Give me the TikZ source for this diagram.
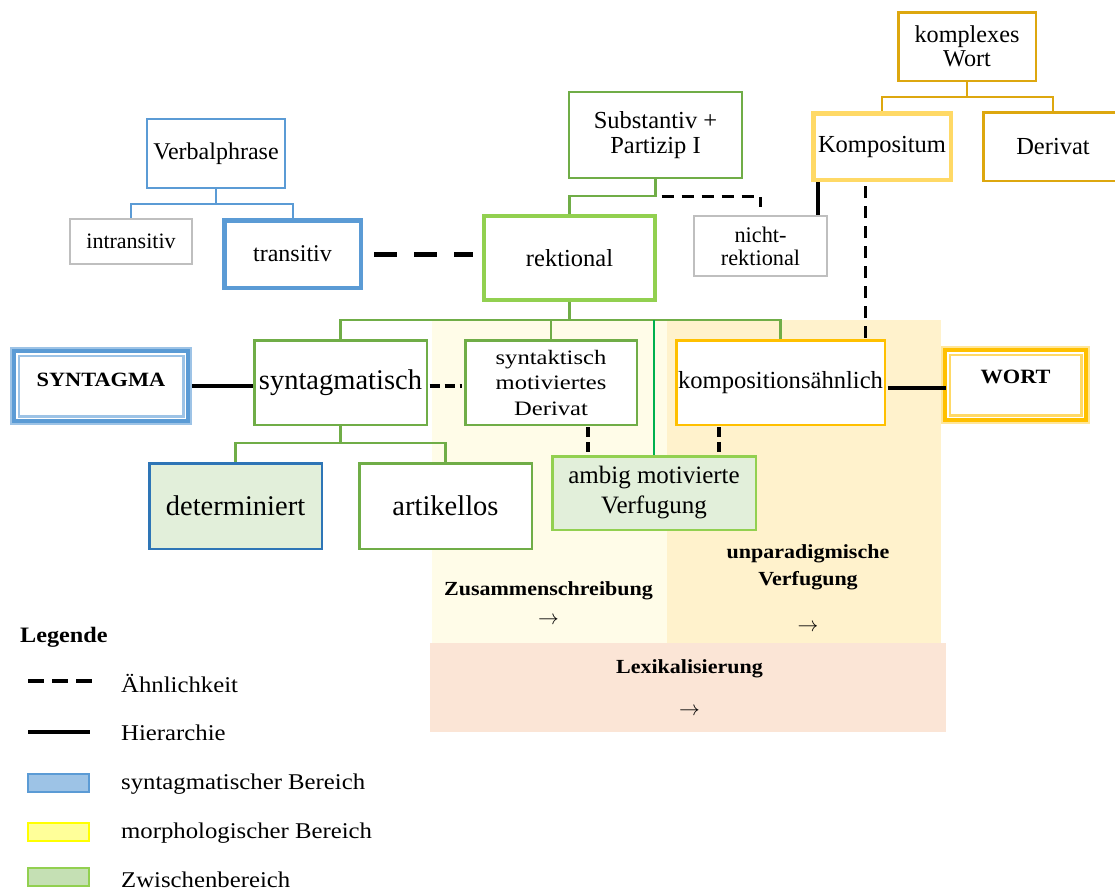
\documentclass[tikz,border=0pt]{standalone}
\usepackage{fontspec}
\setmainfont{Liberation Serif}
\newfontfamily\lblfont{Liberation Serif}[FakeStretch=1.1]
\newfontfamily\widefont{Liberation Serif}[FakeStretch=1.2]
\usetikzlibrary{calc}
\newcommand\fsz[2]{\fontsize{#1}{#2}\selectfont}
\definecolor{cBlue}{HTML}{5B9BD5}
\definecolor{cBlueD}{HTML}{2E75B6}
\definecolor{cBlueL}{HTML}{9DC3E6}
\definecolor{cGreen}{HTML}{70AD47}
\definecolor{cGreenL}{HTML}{92D050}
\definecolor{cGreenB}{HTML}{00B050}
\definecolor{cGray}{HTML}{BFBFBF}
\definecolor{cGold}{HTML}{DDA70F}
\definecolor{cGoldL}{HTML}{FFD966}
\definecolor{cGoldM}{HTML}{FFC000}
\definecolor{cGoldLL}{HTML}{FFE699}
\definecolor{fGreen}{HTML}{E2EFDA}
\definecolor{bgYellow}{HTML}{FFFCE8}
\definecolor{bgOrange}{HTML}{FFF2CC}
\definecolor{bgPink}{HTML}{FBE5D6}
\definecolor{legGreen}{HTML}{C5E0B4}
\definecolor{legYellow}{HTML}{FFFF99}
\definecolor{legYellowB}{HTML}{FFFF00}
\begin{document}
\begin{tikzpicture}[x=1pt,y=-1pt,
  box/.style={draw, fill=white, inner sep=0pt, align=center, text=black},
  treeB/.style={draw=cBlue, line width=2pt},
  treeG/.style={draw=cGreen, line width=2.2pt},
  treeGold/.style={draw=cGold, line width=2.5pt},
  brightG/.style={draw=cGreenB, line width=1.6pt},
  solidB/.style={draw=black, line width=4.5pt},
  bigdash/.style={draw=black, line width=5pt, dash pattern=on 23pt off 17pt},
  meddash/.style={draw=black, line width=3pt, dash pattern=on 12pt off 8pt},
  smalldash/.style={draw=black, line width=4pt, dash pattern=on 10pt off 5pt},
  legdash/.style={draw=black, line width=4pt, dash pattern=on 16pt off 8pt},
  legtext/.style={anchor=base west, inner sep=0pt, font=\lblfont\fsz{22.5}{27}},
  lbl/.style={anchor=base, inner sep=0pt, font=\lblfont\bfseries\fsz{20}{24}},
  arr/.style={anchor=base, inner sep=0pt, font=\fsz{21}{24}},
  legbox/.style={line width=2pt, minimum width=61pt, minimum height=18pt, inner sep=0pt}
]
\path[use as bounding box, clip] (0,0) rectangle (1115,892);
\fill[white] (0,0) rectangle (1115,892);

% background regions
\fill[bgYellow] (432,320) rectangle (667,643);
\fill[bgOrange] (667,320) rectangle (941,643);
\fill[bgPink] (430,643) rectangle (946,732);

% nodes
\node[box, draw=cBlue, line width=2pt, minimum width=138pt, minimum height=69pt, font=\fsz{24}{26}] (verb) at (216,153.5) {Verbalphrase};
\node[box, draw=cGray, line width=2pt, minimum width=122pt, minimum height=45pt, font=\fsz{22}{24}] (intrans) at (131,241.5) {intransitiv};
\node[box, draw=cBlue, line width=4.5pt, minimum width=136.5pt, minimum height=67.5pt, font=\fsz{24}{26}] (trans) at (292.5,254) {transitiv};
\node[box, draw=cGreen, line width=2pt, minimum width=173pt, minimum height=86pt, font=\fsz{24.5}{25}] (subst) at (655.5,135) {Substantiv +\\Partizip I};
\node[box, draw=cGreenL, line width=4pt, minimum width=171pt, minimum height=84pt, font=\fsz{24.5}{26}] (rekt) at (569.5,258) {rektional};
\node[box, draw=cGray, line width=2pt, minimum width=133pt, minimum height=60pt, font=\fsz{22.3}{23}] (nicht) at (760.5,246) {nicht-\\rektional};
\node[box, draw=cGold, line width=2.5pt, minimum width=137.5pt, minimum height=68.5pt, font=\fsz{24.2}{24}] (komplex) at (967,46.5) {komplexes\\Wort};
\node[box, draw=cGoldL, line width=4.5pt, minimum width=137.5pt, minimum height=66.5pt, font=\fsz{24.5}{26}] (kompos) at (882,146.5) {Kompositum};
\node[box, draw=cGold, line width=2.5pt, minimum width=139.5pt, minimum height=68.5pt, font=\fsz{24.5}{26}] (deriv) at (1053,146.5) {Derivat};

\node[box, draw=cBlue, line width=4pt, outer sep=0pt, minimum width=174pt, minimum height=70pt, text height=8pt, text depth=8pt, font=\lblfont\bfseries\fsz{20.3}{24}] (syntagma) at (101,386) {SYNTAGMA};
\draw[cBlueL, line width=2pt] ([xshift=-3pt,yshift=3pt]syntagma.north west) rectangle ([xshift=3pt,yshift=-3pt]syntagma.south east);
\draw[cBlueL, line width=2.5pt] ([xshift=4.75pt,yshift=-4.75pt]syntagma.north west) rectangle ([xshift=-4.75pt,yshift=4.75pt]syntagma.south east);

\node[box, draw=cGoldM, line width=4pt, outer sep=0pt, minimum width=141pt, minimum height=70pt, text height=8pt, text depth=12pt, font=\lblfont\bfseries\fsz{20.3}{24}] (wort) at (1015.5,385) {WORT};
\draw[cGoldLL, line width=2pt] ([xshift=-3pt,yshift=3pt]wort.north west) rectangle ([xshift=3pt,yshift=-3pt]wort.south east);
\draw[cGoldL, line width=2.5pt] ([xshift=4.75pt,yshift=-4.75pt]wort.north west) rectangle ([xshift=-4.75pt,yshift=4.75pt]wort.south east);

\node[box, draw=cGreen, line width=2.5pt, minimum width=172.5pt, minimum height=84.5pt, font=\fsz{28.5}{30}] (syntagm) at (340.5,382.5) {syntagmatisch};
\node[box, draw=cGreen, line width=2.5pt, minimum width=171.5pt, minimum height=84.5pt, font=\widefont\fsz{20.5}{25.5}] (syntakt) at (551,382.5) {syntaktisch\\motiviertes\\Derivat};
\node[box, draw=cGoldM, line width=2.5pt, minimum width=208.5pt, minimum height=84.5pt, font=\fsz{24.6}{26}] (kompah) at (780.5,382.5) {kompositionsähnlich};
\node[box, draw=cBlueD, fill=fGreen, line width=2.5pt, minimum width=172.5pt, minimum height=85.5pt, font=\fsz{28.5}{30}] (determ) at (235.5,506) {determiniert};
\node[box, draw=cGreen, line width=2.5pt, minimum width=172.5pt, minimum height=85.5pt, font=\fsz{28.5}{30}] (artik) at (445.5,506) {artikellos};
\node[box, draw=cGreenL, fill=fGreen, line width=2.5pt, minimum width=203.5pt, minimum height=73.5pt, font=\fsz{25}{30}] (ambig) at (654,493) {ambig motivierte\\Verfugung};

% tree connectors
\coordinate (vpJ) at ($(verb.south)+(0,15)$);
\draw[treeB] (verb.south) -- (vpJ) -| (intrans.north);
\draw[treeB] (vpJ) -| (trans.north);
\coordinate (spJ) at ($(subst.south)+(0,17)$);
\draw[treeG] (subst.south) -- (spJ) -| (rekt.north);
\coordinate (rkJ) at ($(rekt.south)+(0,18)$);
\draw[treeG] (rekt.south) -- (rkJ) -| (syntagm.north);
\draw[treeG] (rkJ) -| (syntakt.north);
\draw[treeG] (rkJ) -| (kompah.north);
\draw[brightG] (ambig.north) -- (ambig.north |- rkJ);
\coordinate (sgJ) at ($(syntagm.south)+(0,17)$);
\draw[treeG] (syntagm.south) -- (sgJ) -| (determ.north);
\draw[treeG] (sgJ) -| (artik.north);
\coordinate (kwJ) at ($(komplex.south)+(0,15)$);
\draw[treeGold] (komplex.south) -- (kwJ) -| (kompos.north);
\draw[treeGold] (kwJ) -| (deriv.north);

% similarity / hierarchy lines
\draw[bigdash, shorten <=11pt, shorten >=9pt] (trans.east) -- (trans.east -| rekt.west);
\coordinate (spD) at ($(spJ)+(6,0)$);
\coordinate (nT) at ($(nicht.north)+(0,-8)$);
\draw[meddash] (spD) -| (nT);
\coordinate (kS) at ($(kompos.south west)+(7,0)$);
\draw[solidB] (kS) -- (kS |- nicht.north);
\coordinate (kD) at ($(kompos.south west)+(54,4)$);
\draw[meddash] (kD) -- (kD |- kompah.north);
\draw[solidB, shorten <=4pt] (syntagma.east) -- (syntagma.east -| syntagm.west);
\coordinate (sd) at ($(syntagm.east)+(0,3.5)$);
\draw[smalldash, shorten <=1.5pt, shorten >=2pt] (sd) -- (sd -| syntakt.west);
\coordinate (kw) at ($(wort.west)+(0,3)$);
\draw[solidB, shorten <=2pt, shorten >=-1pt] (kw -| kompah.east) -- (kw);
\coordinate (sa) at ($(syntakt.south)+(37,1)$);
\draw[smalldash] (sa) -- (sa |- ambig.north);
\coordinate (ka) at ($(kompah.south)+(-61.5,1)$);
\draw[smalldash] (ka) -- (ka |- ambig.north);

% region labels
\node[lbl] (zus) at (548.5,595) {Zusammenschreibung};
\node[arr] (zusA) at (548.5,624) {\(\rightarrow\)};
\node[lbl] (unp1) at (808,558) {unparadigmische};
\node[lbl] (unp2) at (808,585) {Verfugung};
\node[arr] (unpA) at (808,631) {\(\rightarrow\)};
\node[lbl] (lex) at (689.5,673) {Lexikalisierung};
\node[arr] (lexA) at (689.5,715) {\(\rightarrow\)};

% legend
\node[anchor=base west, inner sep=0pt, font=\lblfont\bfseries\fsz{22}{26}] (leg) at (20,642) {Legende};
\coordinate (d1) at (28,681); \coordinate (d2) at (92,681);
\draw[legdash] (d1) -- (d2);
\node[legtext] (legA) at (121,692) {Ähnlichkeit};
\coordinate (h1) at (28,732); \coordinate (h2) at (90,732);
\draw[black, line width=4pt] (h1) -- (h2);
\node[legtext] (legH) at (121,740) {Hierarchie};
\node[legbox, draw=cBlue, fill=cBlueL] (lb1) at (58.5,783) {};
\node[legtext] (legS) at (121,789) {syntagmatischer Bereich};
\node[legbox, draw=legYellowB, fill=legYellow] (lb2) at (58.5,832) {};
\node[legtext] (legM) at (121,838) {morphologischer Bereich};
\node[legbox, draw=cGreenL, fill=legGreen] (lb3) at (58.5,877) {};
\node[legtext] (legZ) at (121,887) {Zwischenbereich};
\end{tikzpicture}
\end{document}
